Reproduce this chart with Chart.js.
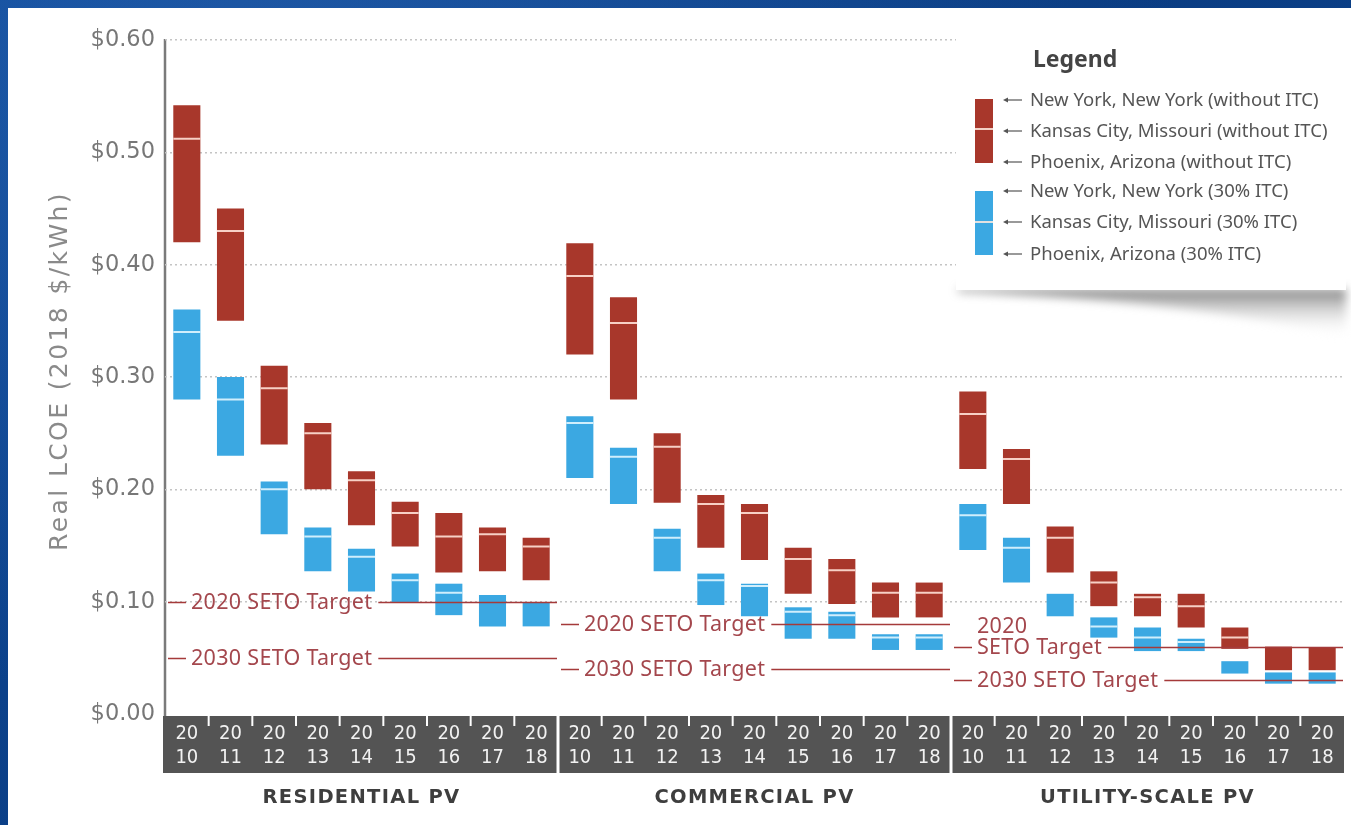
<!DOCTYPE html>
<html>
<head>
<meta charset="utf-8">
<title>Real LCOE of PV, 2010–2018</title>
<script src="https://cdn.jsdelivr.net/npm/chart.js@4.4.1/dist/chart.umd.min.js"></script>
<style>
  html, body { margin: 0; padding: 0; width: 1351px; height: 825px; overflow: hidden; }
  body {
    background:
      radial-gradient(ellipse at 20% 10%, rgba(60,120,200,0.35), rgba(0,0,0,0) 60%),
      radial-gradient(ellipse at 80% 90%, rgba(0,20,70,0.45), rgba(0,0,0,0) 60%),
      linear-gradient(135deg, #0f4a98 0%, #0a3c82 50%, #0d4690 100%);
  }
  #panel { position: absolute; left: 8px; top: 8px; right: 0; bottom: 0; background: #fff; }
  #c { position: absolute; left: 0; top: 0; }
</style>
</head>
<body>
<div id="panel"></div>
<canvas id="c" width="1351" height="825"></canvas>
<script>
// ---- Data ($/kWh, real 2018) ----
const years = ['2010', '2011', '2012', '2013', '2014', '2015', '2016', '2017', '2018'];
const sectors = ['RESIDENTIAL PV', 'COMMERCIAL PV', 'UTILITY-SCALE PV'];

// Without ITC: New York (high), Kansas City (middle line), Phoenix (low)
const nyNoItc  = [0.542, 0.450, 0.310, 0.259, 0.216, 0.189, 0.179, 0.166, 0.157,
                  0.419, 0.371, 0.250, 0.195, 0.187, 0.148, 0.138, 0.117, 0.117,
                  0.287, 0.236, 0.167, 0.127, 0.107, 0.107, 0.077, 0.060, 0.059];
const kcNoItc  = [0.512, 0.430, 0.290, 0.250, 0.208, 0.179, 0.158, 0.160, 0.149,
                  0.390, 0.348, 0.238, 0.187, 0.179, 0.138, 0.128, 0.108, 0.108,
                  0.267, 0.227, 0.157, 0.117, 0.104, 0.096, 0.068, null, null];
const phxNoItc = [0.420, 0.350, 0.240, 0.200, 0.168, 0.149, 0.126, 0.127, 0.119,
                  0.320, 0.280, 0.188, 0.148, 0.137, 0.107, 0.098, 0.086, 0.086,
                  0.218, 0.187, 0.126, 0.096, 0.087, 0.077, 0.058, 0.039, 0.039];

// With 30% ITC
const nyItc  = [0.360, 0.300, 0.207, 0.166, 0.147, 0.125, 0.116, 0.106, 0.099,
                0.265, 0.237, 0.165, 0.125, 0.116, 0.095, 0.091, 0.071, 0.071,
                0.187, 0.157, 0.107, 0.086, 0.077, 0.067, 0.047, 0.037, 0.037];
const kcItc  = [0.340, 0.280, 0.200, 0.158, 0.140, 0.119, 0.108, null, null,
                0.259, 0.229, 0.157, 0.119, 0.114, 0.091, 0.088, 0.068, 0.068,
                0.177, 0.148, null, 0.078, 0.068, 0.064, null, null, null];
const phxItc = [0.280, 0.230, 0.160, 0.127, 0.109, 0.099, 0.088, 0.078, 0.078,
                0.210, 0.187, 0.127, 0.097, 0.087, 0.067, 0.067, 0.057, 0.057,
                0.146, 0.117, 0.087, 0.068, 0.056, 0.056, 0.036, 0.027, 0.027];

// SETO cost targets per sector
const target2020 = [0.10, 0.08, 0.06];
const target2030 = [0.05, 0.04, 0.03];
const target2020Text = [['2020 SETO Target'], ['2020 SETO Target'], ['2020', 'SETO Target']];
const target2030Text = [['2030 SETO Target'], ['2030 SETO Target'], ['2030 SETO Target']];

const yTickValues = [0, 0.1, 0.2, 0.3, 0.4, 0.5, 0.6];
const yTitle = 'Real LCOE (2018 $/kWh)';
const legendTitle = 'Legend';
const legendItems = [
  'New York, New York (without ITC)',
  'Kansas City, Missouri (without ITC)',
  'Phoenix, Arizona (without ITC)',
  'New York, New York (30% ITC)',
  'Kansas City, Missouri (30% ITC)',
  'Phoenix, Arizona (30% ITC)'
];

// ---- Styles ----
const RED = '#a8372b';
const BLUE = '#3ba8e2';
const TARGET_LINE = '#a53a3a';
const TARGET_TEXT = '#a4474d';
const BAND = '#545454';
const SANS = '"Noto Sans", "Open Sans", sans-serif';
const WIDE = '"DejaVu Sans", "Noto Sans", sans-serif';
const NARROW = '"Liberation Sans Narrow", "DejaVu Sans Condensed", "Roboto", sans-serif';

const nCat = years.length * sectors.length;
const categoryLabels = sectors.flatMap(() => years.map(y => [y.slice(0, 2), y.slice(2)]));

const setSpacing = (ctx, v) => { if ('letterSpacing' in ctx) ctx.letterSpacing = v; };

// dark band with the year labels, group separators and small tick marks; y axis line and title
const bandPlugin = {
  id: 'band',
  beforeDraw(chart) {
    const { ctx, chartArea, scales: { x, y } } = chart;
    const w = x.getPixelForValue(1) - x.getPixelForValue(0);
    const left = x.getPixelForValue(0) - w / 2 - 2;
    const right = x.getPixelForValue(nCat - 1) + w / 2;
    const top = x.top + 2, bottom = x.top + 59;
    ctx.save();
    ctx.fillStyle = BAND;
    ctx.fillRect(left, top, right - left, bottom - top);
    ctx.strokeStyle = '#ffffff';
    for (let i = 1; i < nCat; i++) {
      const bx = x.getPixelForValue(i) - w / 2;
      if (i % years.length === 0) {
        ctx.lineWidth = 3;
        ctx.beginPath(); ctx.moveTo(bx, top - 1); ctx.lineTo(bx, bottom + 1); ctx.stroke();
      } else {
        ctx.lineWidth = 2;
        ctx.beginPath(); ctx.moveTo(bx, top); ctx.lineTo(bx, top + 10); ctx.stroke();
      }
    }

    // vertical value axis
    ctx.strokeStyle = '#7a7a7a';
    ctx.lineWidth = 2.5;
    ctx.beginPath();
    ctx.moveTo(chartArea.left, y.getPixelForValue(0.6) - 1);
    ctx.lineTo(chartArea.left, chartArea.bottom + 2);
    ctx.stroke();

    // value axis title
    ctx.translate(60, (y.top + y.bottom) / 2 - 6);
    ctx.rotate(-Math.PI / 2);
    ctx.fillStyle = '#8a8a8a';
    ctx.font = '25px ' + WIDE;
    ctx.textAlign = 'center';
    ctx.textBaseline = 'middle';
    setSpacing(ctx, '2.4px');
    ctx.fillText(yTitle, 0, 0);
    setSpacing(ctx, '0px');
    ctx.restore();
  }
};

// SETO targets, sector titles and the key box
const overlayPlugin = {
  id: 'overlay',
  afterDatasetsDraw(chart) {
    const { ctx, scales: { x, y } } = chart;
    const w = x.getPixelForValue(1) - x.getPixelForValue(0);
    ctx.save();

    const drawTarget = (x0, x1, value, lines) => {
      const py = Math.round(y.getPixelForValue(value)) + 0.5;
      ctx.font = '21.5px ' + SANS;
      ctx.textBaseline = 'middle';
      ctx.textAlign = 'left';
      setSpacing(ctx, '0.3px');
      const tx = x0 + 26;
      const tw = ctx.measureText(lines[lines.length - 1]).width;
      ctx.strokeStyle = TARGET_LINE;
      ctx.lineWidth = 1.6;
      ctx.beginPath();
      ctx.moveTo(x0 + 3, py); ctx.lineTo(x0 + 21, py);
      ctx.moveTo(tx + tw + 6, py); ctx.lineTo(x1 - 1, py);
      ctx.stroke();
      ctx.fillStyle = TARGET_TEXT;
      lines.forEach((t, k) => ctx.fillText(t, tx, py - (lines.length - 1 - k) * 21));
      setSpacing(ctx, '0px');
    };

    sectors.forEach((name, g) => {
      const x0 = x.getPixelForValue(g * years.length) - w / 2;
      const x1 = x.getPixelForValue(g * years.length + years.length - 1) + w / 2;
      drawTarget(x0, x1, target2020[g], target2020Text[g]);
      drawTarget(x0, x1, target2030[g], target2030Text[g]);
      // sector title under the band
      ctx.fillStyle = '#3e3e3e';
      ctx.font = 'bold 19.5px ' + WIDE;
      ctx.textAlign = 'center';
      ctx.textBaseline = 'middle';
      setSpacing(ctx, '1.3px');
      ctx.fillText(name, (x0 + x1) / 2, 798);
      setSpacing(ctx, '0px');
    });

    // key box with its curled shadow
    ctx.save();
    ctx.filter = 'blur(5px)';
    const sg = ctx.createLinearGradient(0, 288, 0, 338);
    sg.addColorStop(0, 'rgba(90,90,90,0.8)');
    sg.addColorStop(1, 'rgba(255,255,255,0)');
    ctx.fillStyle = sg;
    ctx.beginPath();
    ctx.moveTo(958, 289);
    ctx.lineTo(1346, 289);
    ctx.lineTo(1346, 336);
    ctx.quadraticCurveTo(1180, 300, 958, 292);
    ctx.closePath();
    ctx.fill();
    ctx.restore();

    ctx.fillStyle = '#ffffff';
    ctx.fillRect(956, 22, 390, 268);

    ctx.fillStyle = '#444';
    ctx.font = 'bold 23px ' + SANS;
    ctx.textAlign = 'left';
    ctx.textBaseline = 'middle';
    ctx.fillText(legendTitle, 1033, 60);

    const swatch = (color, top, mid, bottom) => {
      ctx.fillStyle = color;
      ctx.fillRect(975, top, 18, bottom - top);
      ctx.fillStyle = 'rgba(255,235,225,0.85)';
      ctx.fillRect(975, mid - 1, 18, 2);
    };
    swatch(RED, 99, 129, 163);
    swatch(BLUE, 191, 222, 255);

    const rowY = [100, 131, 162, 191, 222, 254];
    ctx.font = '18.5px ' + SANS;
    legendItems.forEach((t, i) => {
      const ry = rowY[i];
      ctx.strokeStyle = '#555';
      ctx.fillStyle = '#555';
      ctx.lineWidth = 1.2;
      ctx.beginPath(); ctx.moveTo(1007, ry); ctx.lineTo(1022, ry); ctx.stroke();
      ctx.beginPath(); ctx.moveTo(1003, ry); ctx.lineTo(1008, ry - 2.5); ctx.lineTo(1008, ry + 2.5); ctx.closePath(); ctx.fill();
      ctx.fillText(t, 1030, ry + 1);
    });
    ctx.restore();
  }
};

const midLine = (data, color) => ({
  type: 'line',
  data,
  showLine: false,
  pointStyle: 'line',
  pointRadius: 13.5,
  pointHoverRadius: 13.5,
  pointBorderColor: color,
  pointBorderWidth: 2,
  order: 1
});

new Chart(document.getElementById('c'), {
  type: 'bar',
  data: {
    labels: categoryLabels,
    datasets: [
      {
        label: 'without ITC',
        data: nyNoItc.map((v, i) => [phxNoItc[i], v]),
        backgroundColor: RED,
        grouped: false,
        barPercentage: 0.62,
        categoryPercentage: 1,
        order: 2
      },
      {
        label: '30% ITC',
        data: nyItc.map((v, i) => [phxItc[i], v]),
        backgroundColor: BLUE,
        grouped: false,
        barPercentage: 0.62,
        categoryPercentage: 1,
        order: 2
      },
      midLine(kcNoItc, 'rgba(255,225,215,0.9)'),
      midLine(kcItc, 'rgba(225,245,255,0.9)')
    ]
  },
  options: {
    responsive: false,
    animation: false,
    events: [],
    layout: { autoPadding: false, padding: { top: 40, right: 7, left: 38, bottom: 51 } },
    plugins: { legend: { display: false }, tooltip: { enabled: false } },
    scales: {
      x: {
        grid: { display: false, drawTicks: false },
        border: { display: false },
        ticks: {
          color: '#f2f2f2',
          font: { family: NARROW, size: 20, lineHeight: 1.2 },
          padding: 8,
          maxRotation: 0,
          autoSkip: false
        },
        afterFit(scale) {
          scale.height = 60;
          scale.paddingLeft = 0;
          scale.paddingRight = 0;
        }
      },
      y: {
        min: 0,
        max: 0.6,
        afterBuildTicks(scale) { scale.ticks = yTickValues.map(v => ({ value: v })); },
        grid: {
          drawTicks: false,
          color: (c) => c.tick && c.tick.value === 0 ? 'rgba(0,0,0,0)' : '#c4c4c4',
          lineWidth: 1.5
        },
        border: { display: false, dash: [2, 3] },
        ticks: {
          color: '#777',
          font: { family: WIDE, size: 22.5 },
          padding: 10,
          callback: (v) => '$' + Number(v).toFixed(2)
        },
        afterFit(scale) { scale.width = 165 - 38; }
      }
    }
  },
  plugins: [bandPlugin, overlayPlugin]
});
</script>
</body>
</html>
